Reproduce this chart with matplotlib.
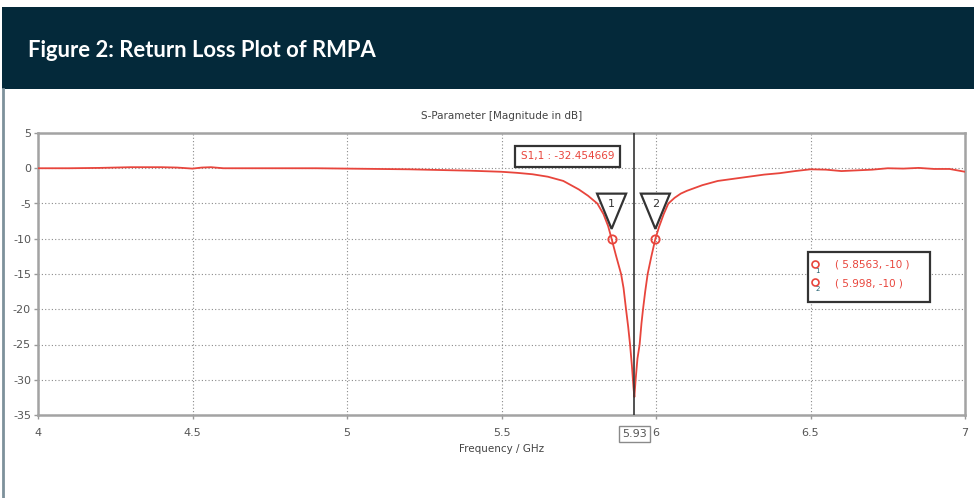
import matplotlib
matplotlib.use("Agg")
import matplotlib.pyplot as plt
from matplotlib.patches import Polygon, Rectangle
from matplotlib.lines import Line2D

plt.rcParams["axes.unicode_minus"] = False
plt.rcParams["font.family"] = ["DejaVu Sans"]

# ---------------- data ----------------
freq = [4.0, 4.1, 4.2, 4.25, 4.3, 4.4, 4.45, 4.5, 4.53, 4.56, 4.6, 4.7, 4.8, 4.9,
        5.0, 5.1, 5.2, 5.3, 5.4, 5.5, 5.55, 5.6, 5.65, 5.7, 5.75, 5.78, 5.81,
        5.83, 5.845, 5.8563, 5.87, 5.887, 5.895, 5.903, 5.91, 5.916, 5.922,
        5.927, 5.93, 5.934, 5.94, 5.947, 5.953, 5.958, 5.965, 5.973, 5.985,
        5.998, 6.01, 6.025, 6.04, 6.06, 6.08, 6.1, 6.15, 6.2, 6.25, 6.3, 6.35,
        6.4, 6.45, 6.5, 6.55, 6.6, 6.65, 6.7, 6.75, 6.8, 6.85, 6.9, 6.95, 7.0]
s11 = [0.0, 0.0, 0.05, 0.1, 0.15, 0.15, 0.1, -0.05, 0.1, 0.15, 0.0, 0.0, 0.0, 0.0,
       -0.05, -0.1, -0.15, -0.25, -0.35, -0.5, -0.65, -0.85, -1.2, -1.8, -3.0, -3.9, -5.0,
       -6.5, -8.2, -10.0, -12.3, -15.0, -17.0, -20.0, -22.5, -25.0, -28.0,
       -31.0, -32.45, -30.0, -27.0, -25.0, -22.0, -20.0, -17.5, -15.0, -12.5,
       -10.0, -8.3, -6.5, -5.0, -4.2, -3.6, -3.2, -2.4, -1.8, -1.5, -1.2, -0.9,
       -0.7, -0.4, -0.15, -0.2, -0.4, -0.3, -0.2, 0.0, -0.05, 0.05, -0.1, -0.1, -0.5]

marker_freq = [5.8563, 5.998]
marker_val = [-10, -10]
marker_ids = ["1", "2"]
cursor_freq = 5.93
cursor_val = -32.454669

x_ticks = [4, 4.5, 5, 5.5, 6, 6.5, 7]
x_tick_labels = ["4", "4.5", "5", "5.5", "6", "6.5", "7"]
y_ticks = [5, 0, -5, -10, -15, -20, -25, -30, -35]

title_text = "Figure 2: Return Loss Plot of RMPA"
plot_title = "S-Parameter [Magnitude in dB]"
x_label = "Frequency / GHz"

# ---------------- figure ----------------
W, H = 974, 498
fig = plt.figure(figsize=(W / 100, H / 100), dpi=100)
fig.patch.set_facecolor("white")

# header band
fig.patches.append(Rectangle((2 / W, 1 - 89 / H), 1 - 2 / W, 82 / H,
                             transform=fig.transFigure, facecolor="#04293a",
                             edgecolor="none", zorder=0))
fig.text(28 / W, 1 - 57 / H, title_text, color="white", fontsize=15.8,
         fontweight="bold", family="Lato", va="baseline", ha="left")
# left frame line
fig.lines.append(Line2D([3 / W, 3 / W], [0, 1 - 89 / H], transform=fig.transFigure,
                        color="#7d919b", lw=2))

ax = fig.add_axes([38 / W, 1 - 415 / H, (965 - 38) / W, (415 - 133) / H])
ax.set_xlim(4, 7)
ax.set_ylim(-35, 5)

tc = "#555555"
ax.set_xticks(x_ticks)
ax.set_xticklabels(x_tick_labels)
ax.set_yticks(y_ticks)
ax.tick_params(axis="both", direction="out", length=3, width=1, color="#999999",
               labelsize=8, labelcolor=tc, pad=2)
ax.tick_params(axis="x", pad=6)
for s in ax.spines.values():
    s.set_color("#a3a3a3")
    s.set_linewidth(1.8)
ax.grid(True, color="#8a8a8a", linestyle=(0, (1, 2)), linewidth=0.8)
ax.set_axisbelow(True)

ax.set_title(plot_title, fontsize=7.5, color="#444444", pad=10)
ax.set_xlabel(x_label, fontsize=7.5, color="#444444", labelpad=5)

# curve
red = "#e8453c"
ax.plot(freq, s11, color=red, lw=1.3, zorder=3)

# cursor line
ax.axvline(cursor_freq, color="#333333", lw=1.2, zorder=4)
ax.text(cursor_freq, -37.7, f"{cursor_freq:.2f}", ha="center", va="center",
        fontsize=8, color=tc, zorder=20, clip_on=False,
        bbox=dict(boxstyle="square,pad=0.3", facecolor="white",
                  edgecolor="#8a8a8a", lw=1))

# cursor value box
ax.text(5.715, 1.7, f"S1,1 : {cursor_val:.6f}", ha="center", va="center",
        fontsize=7.5, color=red, zorder=6,
        bbox=dict(boxstyle="square,pad=0.55", facecolor="white",
                  edgecolor="#333333", lw=1.6))

# markers
for f, v, k in zip(marker_freq, marker_val, marker_ids):
    tri = Polygon([[f - 0.047, v + 6.4], [f + 0.047, v + 6.4], [f, v + 1.4]],
                  closed=True, facecolor="white", edgecolor="#333333", lw=1.6, zorder=6)
    ax.add_patch(tri)
    ax.text(f, v + 4.9, k, ha="center", va="center", fontsize=8, color="#333333", zorder=7)
    ax.plot([f], [v], marker="o", ms=6, mfc="none", mec=red, mew=1.3, zorder=7)

# marker legend box
ax.add_patch(Rectangle((6.492, -18.97), 0.395, 7.09, facecolor="white",
                       edgecolor="#333333", lw=1.6, zorder=6))
rows_y = [-13.72, -16.28]
for f, v, k, ry in zip(marker_freq, marker_val, marker_ids, rows_y):
    ax.plot([6.515], [ry + 0.15], marker="o", ms=5, mfc="none", mec=red, mew=1.2, zorder=7)
    ax.text(6.522, ry - 0.9, k, fontsize=5, color="#1f5f6f", ha="center", va="center", zorder=7)
    ax.text(6.579, ry, f"( {f}, {v} )", fontsize=7.5, color=red, ha="left",
            va="center", zorder=7)

fig.savefig("out.png", dpi=100)
